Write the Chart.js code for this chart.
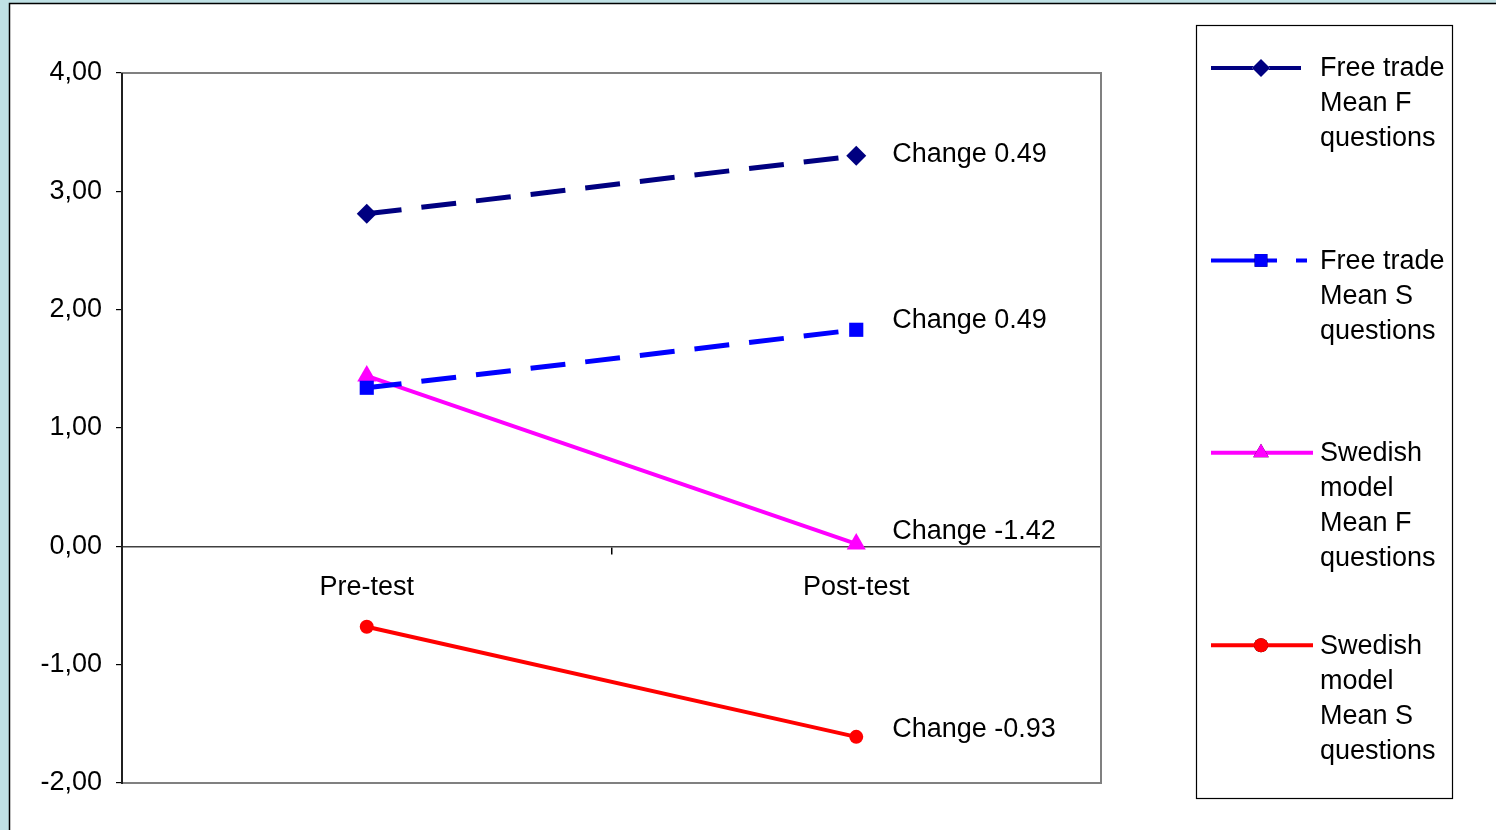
<!DOCTYPE html>
<html>
<head>
<meta charset="utf-8">
<title>Pre-test / Post-test means</title>
<script src="https://cdn.jsdelivr.net/npm/chart.js@4.4.1/dist/chart.umd.min.js"></script>
<style>
  html, body { margin: 0; padding: 0; background: #bfe1e5; }
  #wrap { width: 1496px; height: 830px; position: relative; }
</style>
</head>
<body>
<div id="wrap"><canvas id="chart" width="1496" height="830"></canvas></div>
<script>
// Test occasions on the category axis
const categories = ['Pre-test', 'Post-test'];

// Mean scores per group and question type
const freeTradeF = [2.81, 3.30];
const freeTradeS = [1.34, 1.83];
const swedishF   = [1.44, 0.02];
const swedishS   = [-0.68, -1.61];

// Change between pre-test and post-test, shown next to the post-test points
const changeFreeTradeF = 0.49;
const changeFreeTradeS = 0.49;
const changeSwedishF   = -1.42;
const changeSwedishS   = -0.93;

// Legend texts, one list of lines per series
const nameFreeTradeF = ['Free trade', 'Mean F', 'questions'];
const nameFreeTradeS = ['Free trade', 'Mean S', 'questions'];
const nameSwedishF   = ['Swedish', 'model', 'Mean F', 'questions'];
const nameSwedishS   = ['Swedish', 'model', 'Mean S', 'questions'];

// Value axis range
const yMin = -2, yMax = 4, yStep = 1;

const FONT = '"Liberation Sans", Arial, sans-serif';
const FONT_SIZE = 27;

const datasets = [
  {
    label: nameFreeTradeF.join(' '), legendLines: nameFreeTradeF, change: changeFreeTradeF, labelShift: -1,
    data: freeTradeF, borderColor: '#000080', backgroundColor: '#000080',
    borderWidth: 5, borderDash: [35, 20], pointStyle: 'rectRot', pointRadius: 10,
    legendDash: []
  },
  {
    label: nameFreeTradeS.join(' '), legendLines: nameFreeTradeS, change: changeFreeTradeS, labelShift: -9,
    data: freeTradeS, borderColor: '#0000ff', backgroundColor: '#0000ff',
    borderWidth: 5, borderDash: [35, 20], pointStyle: 'rect', pointRadius: 10,
    legendDash: [66, 19, 11, 100]
  },
  {
    label: nameSwedishF.join(' '), legendLines: nameSwedishF, change: changeSwedishF, labelShift: -12,
    data: swedishF, borderColor: '#ff00ff', backgroundColor: '#ff00ff',
    borderWidth: 4, borderDash: [], pointStyle: 'triangle', pointRadius: 11,
    legendDash: []
  },
  {
    label: nameSwedishS.join(' '), legendLines: nameSwedishS, change: changeSwedishS, labelShift: -7,
    data: swedishS, borderColor: '#ff0000', backgroundColor: '#ff0000',
    borderWidth: 4, borderDash: [], pointStyle: 'circle', pointRadius: 7,
    legendDash: []
  }
].map(d => Object.assign({ tension: 0, fill: false, pointBorderWidth: 0, pointHoverRadius: d.pointRadius }, d));

// White panel with a thin frame on the light background
const panelPlugin = {
  id: 'panel',
  beforeDraw(chart) {
    const ctx = chart.ctx;
    ctx.save();
    ctx.fillStyle = '#bfe1e5';
    ctx.fillRect(0, 0, chart.width, chart.height);
    ctx.fillStyle = '#ffffff';
    ctx.fillRect(9, 3, chart.width - 9, chart.height - 3);
    ctx.strokeStyle = '#000000';
    ctx.lineWidth = 1.5;
    ctx.beginPath();
    ctx.moveTo(9.5, chart.height);
    ctx.lineTo(9.5, 3.5);
    ctx.lineTo(chart.width, 3.5);
    ctx.stroke();
    ctx.restore();
  },
  beforeDatasetsDraw(chart) {
    // plot area frame
    const a = chart.chartArea, ctx = chart.ctx;
    ctx.save();
    ctx.strokeStyle = '#808080';
    ctx.lineWidth = 2;
    ctx.strokeRect(a.left, a.top, a.right - a.left, a.bottom - a.top);
    ctx.strokeStyle = '#000000';
    ctx.lineWidth = 1.5;
    ctx.beginPath();
    ctx.moveTo(a.left, a.top);
    ctx.lineTo(a.left, a.bottom + 1);
    ctx.stroke();
    ctx.restore();
  }
};

// "Change x.xx" labels to the right of the post-test points
const changeLabelPlugin = {
  id: 'changeLabels',
  afterDatasetsDraw(chart) {
    const ctx = chart.ctx;
    ctx.save();
    ctx.font = FONT_SIZE + 'px ' + FONT;
    ctx.fillStyle = '#000000';
    ctx.textAlign = 'left';
    ctx.textBaseline = 'middle';
    chart.data.datasets.forEach((ds, i) => {
      const meta = chart.getDatasetMeta(i);
      const pt = meta.data[meta.data.length - 1];
      ctx.fillText('Change ' + ds.change.toFixed(2), pt.x + 36, pt.y + ds.labelShift);
    });
    ctx.restore();
  }
};

// Boxed legend on the right with wrapped series names
const boxLegendPlugin = {
  id: 'boxLegend',
  afterDraw(chart) {
    const ctx = chart.ctx;
    const box = { x: 1196.5, y: 25.5, w: 256, h: 773 };
    ctx.save();
    ctx.fillStyle = '#ffffff';
    ctx.fillRect(box.x, box.y, box.w, box.h);
    ctx.strokeStyle = '#000000';
    ctx.lineWidth = 1.2;
    ctx.strokeRect(box.x, box.y, box.w, box.h);

    const firstY = 67, step = 192.4, lineH = 35;
    const x0 = 1211, textX = 1320;
    chart.data.datasets.forEach((ds, i) => {
      const y = firstY + i * step;
      const lineEnd = ds.pointStyle === 'rectRot' ? 1301 : (ds.pointStyle === 'rect' ? 1307 : 1313);
      ctx.strokeStyle = ds.borderColor;
      ctx.lineWidth = 4;
      ctx.setLineDash(ds.legendDash);
      ctx.beginPath();
      ctx.moveTo(x0, y + 1);
      ctx.lineTo(lineEnd, y + 1);
      ctx.stroke();
      ctx.setLineDash([]);
      Chart.helpers.drawPoint(ctx, {
        pointStyle: ds.pointStyle,
        radius: ds.pointStyle === 'circle' ? 7 : 9,
        borderWidth: 0
      }, 1261, y + 1);
      ctx.fillStyle = ds.backgroundColor;
      ctx.fill();

      ctx.fillStyle = '#000000';
      ctx.font = FONT_SIZE + 'px ' + FONT;
      ctx.textAlign = 'left';
      ctx.textBaseline = 'middle';
      ds.legendLines.forEach((t, k) => ctx.fillText(t, textX, y + 2 + k * lineH));
    });
    ctx.restore();
  }
};

new Chart(document.getElementById('chart'), {
  type: 'line',
  data: { labels: categories, datasets: datasets },
  plugins: [panelPlugin, changeLabelPlugin, boxLegendPlugin],
  options: {
    responsive: false,
    animation: false,
    events: [],
    layout: { padding: { left: 0, top: 73, right: 395, bottom: 47 } },
    plugins: { legend: { display: false }, tooltip: { enabled: false }, title: { display: false } },
    scales: {
      x: {
        type: 'category',
        position: { y: 0 },
        offset: true,
        grid: { drawOnChartArea: false, drawTicks: true, tickLength: 7, offset: true, color: '#000000', lineWidth: 1.5 },
        border: { display: true, color: '#404040', width: 1.5 },
        ticks: { color: '#000000', font: { family: FONT, size: FONT_SIZE }, padding: 18, maxRotation: 0 }
      },
      y: {
        min: yMin, max: yMax,
        afterFit(scale) { scale.width = 122; },
        grid: { drawOnChartArea: false, drawTicks: true, tickLength: 6, color: '#000000', lineWidth: 1.2 },
        border: { display: true, color: '#000000', width: 1.5 },
        ticks: {
          stepSize: yStep, color: '#000000', padding: 14,
          font: { family: FONT, size: FONT_SIZE },
          callback: v => v.toFixed(2).replace('.', ',')
        }
      }
    }
  }
});
</script>
</body>
</html>
